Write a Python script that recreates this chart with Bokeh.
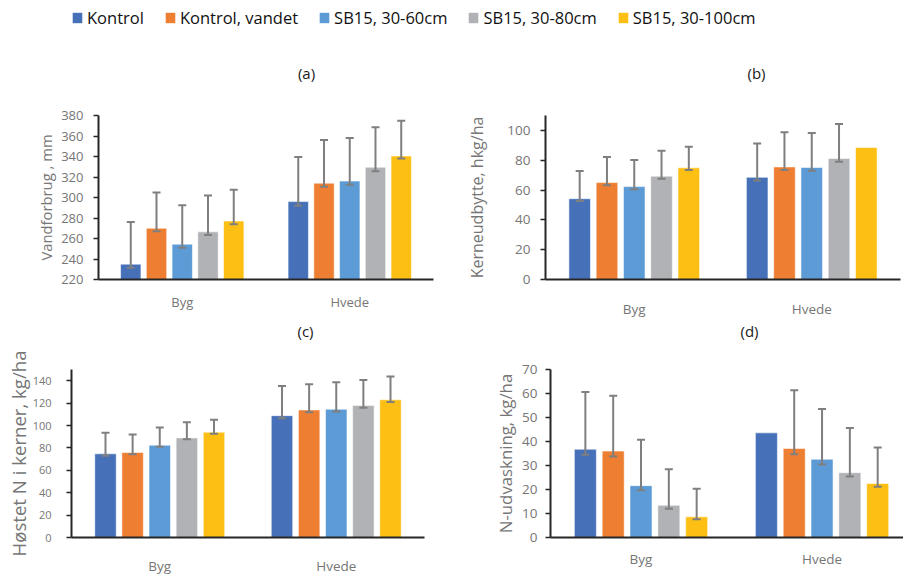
from bokeh.plotting import figure
from bokeh.models import (ColumnDataSource, Whisker, TeeHead, Legend, LegendItem,
                          Label, FixedTicker, Range1d)
from bokeh.layouts import column, row
from bokeh.embed import file_html
from bokeh.resources import INLINE

NAN = float("nan")

# ---------------- data ----------------
SERIES = ["Kontrol", "Kontrol, vandet", "SB15, 30-60cm", "SB15, 30-80cm", "SB15, 30-100cm"]
CROPS = ["Byg", "Hvede"]

# (a) Vandforbrug, mm  -- per series: [Byg, Hvede]
a_val = [[235.0, 296.0], [270.0, 314.0], [254.5, 316.0], [266.5, 329.5], [277.0, 340.5]]
a_hi = [[276.0, 339.5], [305.0, 356.0], [292.5, 358.0], [302.0, 368.5], [307.5, 375.0]]
a_lo = [[231.5, 292.0], [267.0, 310.5], [251.0, 312.5], [263.5, 325.5], [274.0, 338.0]]

# (b) Kerneudbytte, hkg/ha
b_val = [[54.2, 68.5], [65.0, 75.5], [62.3, 75.1], [69.3, 81.2], [74.9, 88.5]]
b_hi = [[72.8, 91.3], [82.1, 98.8], [80.2, 98.2], [86.4, 104.3], [89.1, NAN]]
b_lo = [[52.6, 66.4], [63.3, 73.4], [60.6, 73.0], [67.6, 79.0], [73.4, NAN]]

# (c) Høstet N i kerner, kg/ha
c_val = [[74.7, 108.8], [75.9, 113.9], [82.4, 114.5], [88.9, 117.9], [94.0, 123.0]]
c_hi = [[93.5, 135.2], [92.0, 136.9], [98.3, 138.6], [102.8, 140.6], [105.1, 143.8]]
c_lo = [[73.0, 106.5], [74.4, 111.9], [81.0, 112.5], [87.8, 115.9], [92.6, 121.0]]

# (d) N-udvaskning, kg/ha
d_val = [[36.8, 43.6], [36.0, 37.1], [21.6, 32.6], [13.4, 27.0], [8.6, 22.5]]
d_hi = [[60.6, NAN], [59.1, 61.4], [40.7, 53.5], [28.4, 45.6], [20.3, 37.5]]
d_lo = [[34.5, NAN], [33.8, 34.7], [19.7, 30.4], [12.0, 25.4], [7.6, 21.1]]

PANEL_TITLES = ["(a)", "(b)", "(c)", "(d)"]

COLORS = ["#4671B9", "#EE7E31", "#5C9BD5", "#B1B2B5", "#FDBF13"]
ERR_COLOR = "#7F7F7F"
AXIS_COLOR = "#262626"
TEXT_GRAY = "#767676"
FONT = "Open Sans"

STEP = 0.1537   # distance between bar centres within a group (category units)
BW = 0.1216     # bar width (category units)


def make_panel(w, h, bl, br, bt, bb, y0, y1, ystep, ytop_tick, ylabel,
               vals, his, los, tick_fs, lab_fs, cat_fs, tick_std, lab_std, cat_std,
               xend=2.0):
    p = figure(width=w, height=h, x_range=(0, xend), y_range=(y0, y1),
               output_backend="svg", toolbar_location=None,
               min_border_left=bl, min_border_right=br, min_border_top=bt,
               min_border_bottom=bb)
    p.outline_line_color = None
    p.grid.visible = False
    p.background_fill_color = "white"
    p.border_fill_color = "white"

    for i, s in enumerate(SERIES):
        xs = [k + 0.5 + (i - 2) * STEP for k in range(len(CROPS))]
        src = ColumnDataSource(dict(x=xs, top=vals[i], hi=his[i], lo=los[i]))
        p.vbar(x="x", top="top", bottom=y0, width=BW, source=src,
               fill_color=COLORS[i], line_color="white", line_alpha=0.55, line_width=1)
        wh = Whisker(base="x", upper="hi", lower="lo", source=src,
                     line_color=ERR_COLOR, line_width=2, level="overlay",
                     upper_head=TeeHead(size=8, line_color=ERR_COLOR, line_width=2),
                     lower_head=TeeHead(size=8, line_color=ERR_COLOR, line_width=2))
        p.add_layout(wh)

    # x axis (categories)
    xa = p.xaxis[0]
    xa.ticker = FixedTicker(ticks=[k + 0.5 for k in range(len(CROPS))])
    xa.major_label_overrides = {k + 0.5: c for k, c in enumerate(CROPS)}
    xa.major_tick_line_color = None
    xa.minor_tick_line_color = None
    xa.axis_line_width = 2
    xa.axis_line_color = AXIS_COLOR
    xa.major_label_text_font = FONT
    xa.major_label_text_font_size = cat_fs
    xa.major_label_text_color = TEXT_GRAY
    xa.major_label_standoff = cat_std

    ya = p.yaxis[0]
    ya.ticker = FixedTicker(ticks=list(range(y0, ytop_tick + 1, ystep)))
    ya.major_tick_out = 5
    ya.major_tick_in = 0
    ya.major_tick_line_width = 1.5
    ya.major_tick_line_color = AXIS_COLOR
    ya.minor_tick_line_color = None
    ya.axis_line_width = 2
    ya.axis_line_color = AXIS_COLOR
    ya.major_label_text_font = FONT
    ya.major_label_text_font_size = tick_fs
    ya.major_label_text_color = TEXT_GRAY
    ya.major_label_standoff = tick_std
    ya.axis_label = ylabel
    ya.axis_label_text_font = FONT
    ya.axis_label_text_font_size = lab_fs
    ya.axis_label_text_font_style = "normal"
    ya.axis_label_text_color = TEXT_GRAY
    ya.axis_label_standoff = lab_std
    return p


def strip(w, h, top_px):
    """A blank full-width strip whose data space equals page pixels."""
    s = figure(width=w, height=h, x_range=Range1d(0, w),
               y_range=Range1d(top_px + h, top_px),
               output_backend="svg", toolbar_location=None, min_border=0)
    s.axis.visible = False
    s.grid.visible = False
    s.outline_line_color = None
    return s


def title_label(text, x, y):
    return Label(x=x, y=y, text=text, text_align="center", text_baseline="middle",
                 text_font=FONT, text_font_size="15px", text_color="#1a1a1a")


# ---- top strip: legend + titles (a), (b)
fleg = strip(903, 88, 0)
items = []
for s, c in zip(SERIES, COLORS):
    # zero-height helper bar: invisible, only supplies the legend swatch
    r = fleg.vbar(x=[0], top=[0], bottom=[0], width=0.01, fill_color=c, line_color=None)
    items.append(LegendItem(label=s, renderers=[r]))
leg = Legend(items=items, orientation="horizontal", location=(71, 59),
             glyph_width=12, glyph_height=13, label_height=16, label_standoff=4,
             spacing=20, padding=0, margin=0, border_line_color=None,
             background_fill_alpha=0, label_text_font=FONT,
             label_text_font_size="16.5px", label_text_color="#111111")
fleg.add_layout(leg)
fleg.add_layout(title_label(PANEL_TITLES[0], 306, 72))
fleg.add_layout(title_label(PANEL_TITLES[1], 756, 72))

# ---- middle strip: titles (c), (d)
fmid = strip(903, 25, 320)
fmid.add_layout(title_label(PANEL_TITLES[2], 305, 330))
fmid.add_layout(title_label(PANEL_TITLES[3], 749, 330))

fa = make_panel(450, 232, 98, 17, 27, 38, 220, 380, 20, 380, "Vandforbrug , mm",
                a_val, a_hi, a_lo, "13px", "14.8px", "13px", 10, 2, 7)
fb = make_panel(453, 232, 95, 3, 18, 36, 0, 110, 20, 100, "Kerneudbytte, hkg/ha",
                b_val, b_hi, b_lo, "13.5px", "16px", "13.5px", 10, 16, 14)
fc = make_panel(450, 232, 71, 26, 23, 33, 0, 150, 20, 140, "Høstet N i kerner, kg/ha",
                c_val, c_hi, c_lo, "11px", "18.6px", "13.5px", 15, -1, 13)
fd = make_panel(453, 232, 100, 0, 24, 26, 0, 70, 10, 70, "N-udvaskning, kg/ha",
                d_val, d_hi, d_lo, "13.5px", "16.8px", "13.5px", 8, 2, 6,
                xend=1.95)

layout = column(fleg, row(fa, fb, spacing=0), fmid, row(fc, fd, spacing=0), spacing=0)

open("out.html", "w").write(file_html(layout, INLINE))
